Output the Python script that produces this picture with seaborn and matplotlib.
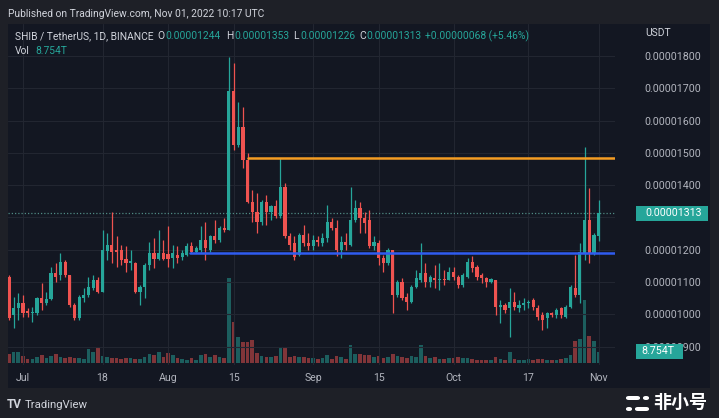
import matplotlib
matplotlib.use("Agg")
import matplotlib.pyplot as plt
import seaborn as sns
import pandas as pd
from matplotlib.patches import Rectangle, FancyBboxPatch

# ---------------- data (prices in units of 1e-8 USDT, volume in T) ----------------
start_date = "2022-06-28"
opens = [1117, 998, 1019, 1034, 1010, 1003, 1003, 1050, 1034, 1047, 1127, 1122, 1163, 1122, 1029, 988, 1050, 1060, 1081, 1106, 1070, 1197, 1215, 1199, 1199, 1171,
         1160, 1158, 1070, 1086, 1153, 1189, 1171, 1189, 1187, 1173, 1184, 1179, 1184, 1210, 1194, 1199, 1230, 1199, 1241, 1230, 1266, 1261, 1690, 1524, 1581,
         1478, 1349, 1318, 1287, 1349, 1318, 1334, 1303, 1395, 1241, 1220, 1184, 1246, 1220, 1210, 1230, 1220, 1236, 1287, 1266, 1199, 1225, 1215, 1292, 1328, 1297,
         1292, 1210, 1220, 1174, 1158, 1199, 1060, 1101, 1055, 1039, 1086, 1106, 1127, 1101, 1112, 1106, 1108, 1106, 1132, 1117, 1091,
         1117, 1163, 1148, 1122, 1112, 1101, 1106, 1024, 1029, 1019, 1039, 1019, 1029, 1034, 1045, 1019, 998, 988, 1003, 998, 1019, 993, 1024, 1081, 1060, 1189, 1292, 1189, 1244]
highs = [1122, 1055, 1065, 1060, 1019, 1024, 1055, 1096, 1070, 1148, 1158, 1191, 1168, 1122, 1034, 1060, 1081, 1117, 1122, 1117, 1261, 1251, 1318, 1241, 1215, 1210,
         1199, 1163, 1091, 1158, 1225, 1235, 1261, 1230, 1272, 1215, 1210, 1199, 1220, 1225, 1210, 1272, 1287, 1246, 1292, 1272, 1297, 1798, 1777, 1659, 1643,
         1499, 1385, 1375, 1354, 1370, 1339, 1354, 1483, 1406, 1251, 1241, 1251, 1277, 1251, 1246, 1241, 1251, 1339, 1297, 1292, 1241, 1251, 1395, 1354, 1349, 1318,
         1323, 1241, 1230, 1184, 1205, 1199, 1106, 1112, 1065, 1091, 1137, 1220, 1158, 1122, 1153, 1158, 1137, 1148, 1148, 1122, 1127,
         1174, 1179, 1153, 1127, 1117, 1112, 1106, 1045, 1034, 1081, 1070, 1045, 1050, 1045, 1050, 1029, 1008, 1008, 1008, 1019, 1024, 1029, 1091, 1184, 1220, 1519, 1390, 1251, 1353]
lows = [983, 957, 983, 993, 993, 977, 998, 1014, 1029, 1045, 1101, 1106, 1117, 1024, 983, 983, 1039, 1055, 1076, 1065, 1070, 1168, 1158, 1148, 1153, 1132,
        1137, 1065, 1029, 1050, 1137, 1143, 1168, 1168, 1148, 1143, 1158, 1168, 1179, 1189, 1189, 1194, 1168, 1194, 1220, 1225, 1256, 1261, 1509, 1519, 1452,
        1344, 1287, 1251, 1277, 1277, 1292, 1297, 1297, 1236, 1199, 1168, 1179, 1210, 1199, 1199, 1210, 1210, 1225, 1261, 1179, 1174, 1199, 1210, 1287, 1251, 1251,
        1205, 1199, 1153, 1132, 1153, 1003, 1055, 1045, 1014, 1034, 1081, 1101, 1086, 1086, 1081, 1076, 1091, 1106, 1106, 1081, 1086,
        1112, 1132, 1107, 1096, 1086, 1096, 998, 972, 1003, 931, 1014, 1008, 1014, 1019, 1014, 983, 952, 957, 993, 988, 988, 988, 1019, 1055, 1034, 1168, 1158, 1184, 1226]
closes = [988, 1021, 1034, 1003, 1003, 1008, 1050, 1034, 1047, 1127, 1117, 1163, 1122, 1029, 988, 1055, 1060, 1084, 1106, 1070, 1199, 1215, 1194, 1194, 1168, 1160,
          1165, 1070, 1086, 1153, 1189, 1171, 1189, 1171, 1171, 1189, 1173, 1191, 1212, 1194, 1204, 1230, 1204, 1241, 1230, 1266, 1261, 1690, 1524, 1581, 1478,
          1349, 1318, 1287, 1349, 1318, 1334, 1303, 1395, 1241, 1215, 1179, 1246, 1220, 1210, 1230, 1225, 1236, 1287, 1266, 1199, 1225, 1215, 1292, 1328, 1297, 1282,
          1210, 1225, 1174, 1158, 1199, 1060, 1101, 1050, 1039, 1086, 1112, 1127, 1101, 1117, 1106, 1108, 1106, 1132, 1117, 1091, 1122,
          1163, 1143, 1117, 1112, 1101, 1108, 1024, 1029, 1014, 1039, 1024, 1029, 1034, 1039, 1024, 993, 983, 1003, 998, 1014, 998, 1024, 1086, 1060, 1194, 1292, 1189, 1246, 1313]
volumes_T = [7.5, 9.0, 9.0, 5.8, 3.3, 3.3, 5.0, 6.6, 4.1, 5.8, 7.5, 5.0, 4.1, 5.0, 4.1, 4.1, 3.3, 10.8, 9.1, 11.6, 5.8, 5.0, 4.1, 4.1, 3.3, 4.1,
             4.2, 3.3, 3.3, 5.0, 7.5, 6.6, 9.1, 5.0, 8.3, 6.6, 4.2, 3.3, 2.5, 4.2, 2.5, 6.6, 7.5, 5.0, 6.6, 5.0, 4.2, 68.0, 33.0, 20.5, 16.5,
             16.6, 18.3, 8.3, 5.8, 5.0, 5.0, 5.8, 12.5, 11.6, 5.0, 5.8, 5.0, 5.0, 4.2, 4.2, 3.3, 4.2, 6.6, 3.3, 5.8, 5.0, 3.3, 14.1, 7.5, 7.5, 6.6,
             6.6, 5.0, 5.8, 4.2, 5.0, 7.5, 5.8, 5.0, 4.2, 5.8, 5.0, 14.1, 5.8, 4.2, 5.0, 3.3, 3.3, 4.2, 4.2, 5.0, 4.2,
             4.2, 3.3, 2.5, 2.5, 2.5, 2.5, 5.0, 3.3, 2.5, 9.1, 3.3, 2.5, 2.5, 3.3, 2.5, 3.3, 3.3, 2.5, 2.5, 2.5, 3.3, 4.2, 6.6, 17.4, 19.1, 50.6, 21.6, 17.4, 8.754]

tick_dates = ["2022-07-01", "2022-07-18", "2022-08-01", "2022-08-15", "2022-09-01",
              "2022-09-15", "2022-10-01", "2022-10-17", "2022-11-01"]
tick_labels = ["Jul", "18", "Aug", "15", "Sep", "15", "Oct", "17", "Nov"]
price_ticks = [900, 1000, 1100, 1200, 1300, 1400, 1500, 1600, 1700, 1800]
hidden_tick = 1300  # covered by the last-price tag
resistance_level = 1484
resistance_from = "2022-08-18"
support_level = 1190
support_from = "2022-08-05"
last_price = 1313
last_volume_label = "8.754T"

# ---------------- style ----------------
W, H = 719, 418
OUTER = "#1e2027"
INNER = "#131722"
GREEN = "#26a69a"
RED = "#ef5350"
TXT = "#b2b5be"
LEG = "#d1d4dc"
GRID = "#222631"

sns.set_theme(style="dark")
plt.rcParams["font.family"] = ["Roboto", "DejaVu Sans"]

S = 1e-8
df = pd.DataFrame({"open": opens, "high": highs, "low": lows, "close": closes, "volume": volumes_T})
df["date"] = pd.date_range(start_date, periods=len(df), freq="D")
t0 = pd.Timestamp(start_date)
df["x"] = (df["date"] - t0).dt.days
df["dir"] = ["up" if c >= o else "down" for o, c in zip(df["open"], df["close"])]

def dx(d):
    return (pd.Timestamp(d) - t0).days

fig = plt.figure(figsize=(W / 100, H / 100), dpi=100, facecolor=OUTER)

def fx(x):
    return x / W

def fy(y):
    return 1 - y / H

# chart frame
fig.patches.append(Rectangle((fx(8), fy(388)), fx(710) - fx(8), fy(24) - fy(388),
                             transform=fig.transFigure, facecolor=INNER, edgecolor="none", zorder=-10))

ax = fig.add_axes([fx(8), fy(365), fx(615) - fx(8), fy(24) - fy(365)])
ax2 = ax.twinx()
ax2.set_zorder(1)
ax.set_zorder(2)
ax.patch.set_visible(False)
ax2.patch.set_visible(False)

# volume
sns.barplot(data=df, x="x", y="volume", hue="dir", palette={"up": GREEN, "down": RED},
            native_scale=True, dodge=False, width=0.78, alpha=0.5, saturation=1,
            errorbar=None, legend=False, linewidth=0, edgecolor="none", ax=ax2)
ax2.set_ylim(-1.6, 271)
ax2.set_xlabel("")
ax2.set_ylabel("")
ax2.set_yticks([])

# grid
for p in price_ticks:
    ax.axhline(p * S, color=GRID, lw=0.8, zorder=0)
xt = [dx(d) for d in tick_dates]
for x in xt:
    ax.axvline(x, color=GRID, lw=0.8, zorder=0)

# candles
for _, r in df.iterrows():
    c = GREEN if r["dir"] == "up" else RED
    ax.vlines(r["x"], r["low"] * S, r["high"] * S, color=c, lw=0.9, zorder=3)
    lo = min(r["open"], r["close"])
    h = max(abs(r["close"] - r["open"]), 2.5)
    ax.bar(r["x"], h * S, bottom=lo * S, width=0.68, color=c, zorder=4, linewidth=0)

# levels
ax.plot([dx(resistance_from), dx(resistance_from) + 81], [resistance_level * S] * 2, color="#f59d23", lw=1.8, zorder=5)
ax.plot([dx(support_from) + 0.7, dx(support_from) + 92.9], [support_level * S] * 2, color="#2f5cf0", lw=1.8, zorder=5)
ax.axhline(last_price * S, color="#4f8a83", lw=0.9, ls=(0, (1, 1.6)), zorder=2)

ax.set_xlim(-0.2, 129.5)
ax.set_ylim(843 * S, 1899 * S)
ax2.set_xlim(-0.2, 129.5)

ax.set_xticks(xt)
ax.set_xticklabels(tick_labels)
ax.yaxis.tick_right()
ax.set_yticks([p * S for p in price_ticks])
ax.set_yticklabels(["" if p == hidden_tick else f"{p * S:.8f}" for p in price_ticks])
ax.tick_params(axis="x", length=0, pad=6, labelsize=7.6, labelcolor=TXT)
ax.tick_params(axis="y", length=0, pad=21.5, labelsize=7.7, labelcolor=TXT)
ax.grid(False)
ax2.grid(False)
for a in (ax, ax2):
    for s in a.spines.values():
        s.set_visible(False)

# header texts
fig.text(fx(8), fy(14), "Published on TradingView.com, Nov 01, 2022 10:17 UTC", color=LEG, fontsize=7.4, va="center")
fig.text(fx(15), fy(36), "SHIB / TetherUS, 1D, BINANCE", color=LEG, fontsize=7.4, va="center")
for xl, lab, xv, val in [(157, "O", 165, "0.00001244"), (226, "H", 234, "0.00001353"),
                         (293, "L", 300, "0.00001226"), (359, "C", 366, "0.00001313")]:
    fig.text(fx(xl), fy(36), lab, color=LEG, fontsize=7.4, va="center")
    fig.text(fx(xv), fy(36), val, color=GREEN, fontsize=7.4, va="center")
fig.text(fx(425), fy(36), "+0.00000068 (+5.46%)", color=GREEN, fontsize=7.4, va="center")
fig.text(fx(15), fy(51), "Vol", color=LEG, fontsize=7.4, va="center")
fig.text(fx(35), fy(51), last_volume_label, color=GREEN, fontsize=7.4, va="center")
fig.text(fx(645), fy(33), "USDT", color=LEG, fontsize=7.4, va="center")

# price / volume labels on the axis
fig.patches.append(Rectangle((fx(636), fy(221)), fx(708) - fx(636), fy(206) - fy(221),
                             transform=fig.transFigure, facecolor=GREEN, edgecolor="none", zorder=5))
fig.text(fx(645), fy(213.5), f"{last_price * S:.8f}", color="white", fontsize=7.7, va="center", zorder=6)
fig.patches.append(Rectangle((fx(636), fy(359)), fx(683) - fx(636), fy(344) - fy(359),
                             transform=fig.transFigure, facecolor=GREEN, edgecolor="none", zorder=5))
fig.text(fx(641), fy(351.5), last_volume_label, color="white", fontsize=7.7, va="center", zorder=6)

# footer
fig.text(fx(7), fy(405), "TV", color=LEG, fontsize=8.5, fontweight="bold", va="center")
fig.text(fx(25), fy(405), "TradingView", color=LEG, fontsize=8.2, va="center")
for (x0, y0, w0) in [(626, 396, 14), (643, 396, 6), (626, 407, 6), (635, 407, 14)]:
    fig.patches.append(FancyBboxPatch((fx(x0), fy(y0 + 4)), fx(w0), fy(0) - fy(4),
                                      boxstyle="round,pad=0,rounding_size=0.004",
                                      transform=fig.transFigure, facecolor="white", edgecolor="none"))
fig.text(fx(653), fy(402), "非小号", color="white", fontsize=13, fontweight="bold",
         family=["Noto Sans CJK SC", "DejaVu Sans"], va="center")

fig.savefig("out.png", dpi=100, facecolor=OUTER)
